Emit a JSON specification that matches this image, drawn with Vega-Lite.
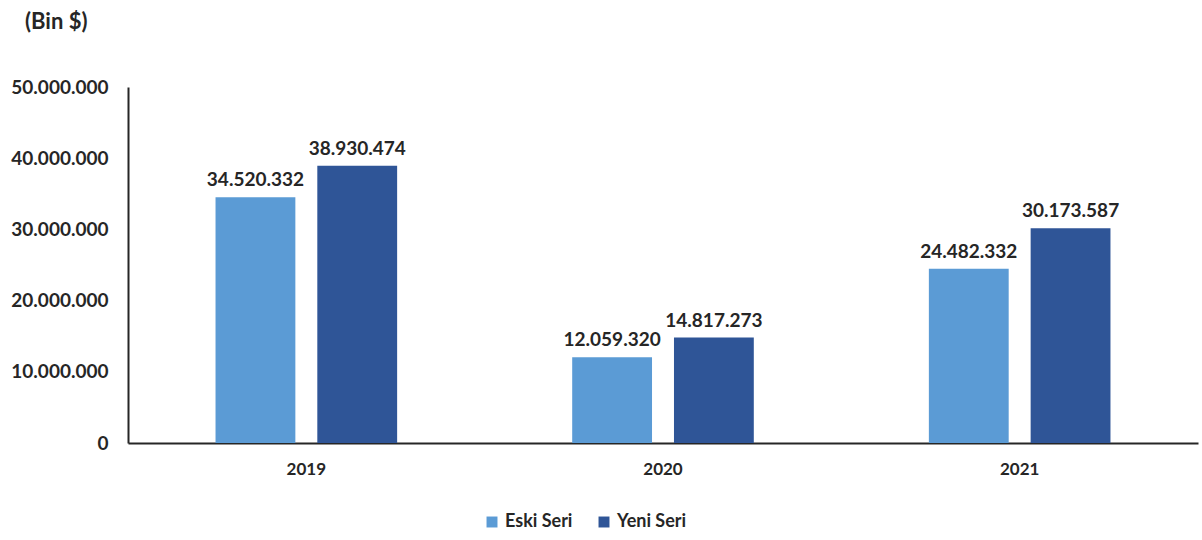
{
  "$schema": "https://vega.github.io/schema/vega-lite/v6.json",
  "width": 1070,
  "height": 356,
  "autosize": {"type": "none"},
  "padding": {"left": 128, "top": 87, "right": 4, "bottom": 97},
  "title": {"text": "(Bin $)", "anchor": "start", "frame": "group", "dx": -103, "offset": 44, "fontSize": 22, "font": "Lato", "fontWeight": "bold", "color": "#262626"},
  "data": {"values": [
    {"yil": "2019", "seri": "Eski Seri", "deger": 34520332},
    {"yil": "2019", "seri": "Yeni Seri", "deger": 38930474},
    {"yil": "2020", "seri": "Eski Seri", "deger": 12059320},
    {"yil": "2020", "seri": "Yeni Seri", "deger": 14817273},
    {"yil": "2021", "seri": "Eski Seri", "deger": 24482332},
    {"yil": "2021", "seri": "Yeni Seri", "deger": 30173587}
  ]},
  "encoding": {
    "x": {"field": "yil", "type": "nominal", "title": null,
      "scale": {"paddingInner": 0, "paddingOuter": 0},
      "axis": {"labelAngle": 0, "ticks": false, "labelPadding": 18, "labelFontSize": 17, "domainColor": "#262626", "domainWidth": 2}},
    "xOffset": {"field": "seri", "type": "nominal", "scale": {"paddingInner": 0.2157, "paddingOuter": 0.86}},
    "y": {"field": "deger", "type": "quantitative", "title": null,
      "scale": {"domain": [0, 50000000]},
      "axis": {"values": [0, 10000000, 20000000, 30000000, 40000000, 50000000], "format": ",d", "grid": false, "ticks": false, "labelPadding": 20, "labelFontSize": 19, "domainColor": "#262626", "domainWidth": 2}}
  },
  "layer": [
    {"mark": {"type": "bar"},
     "encoding": {"color": {"field": "seri", "type": "nominal", "title": null,
       "scale": {"domain": ["Eski Seri", "Yeni Seri"], "range": ["#5B9BD5", "#2F5597"]},
       "legend": {"orient": "none", "legendX": 355, "legendY": 426, "direction": "horizontal", "symbolType": "square", "symbolSize": 120, "symbolStrokeWidth": 0, "columnPadding": 22, "labelFontSize": 18, "labelFont": "Lato", "labelFontWeight": "bold", "labelColor": "#262626", "labelOffset": 4}}}},
    {"mark": {"type": "text", "baseline": "bottom", "dy": -7, "fontSize": 19, "font": "Lato", "fontWeight": "bold", "color": "#262626"},
     "encoding": {"text": {"field": "deger", "type": "quantitative", "format": ",d"}}}
  ],
  "config": {
    "view": {"stroke": null},
    "locale": {"number": {"decimal": ",", "thousands": ".", "grouping": [3], "currency": ["", " $"]}},
    "axis": {"labelFont": "Lato", "labelFontWeight": "bold", "labelColor": "#262626"}
  }
}
